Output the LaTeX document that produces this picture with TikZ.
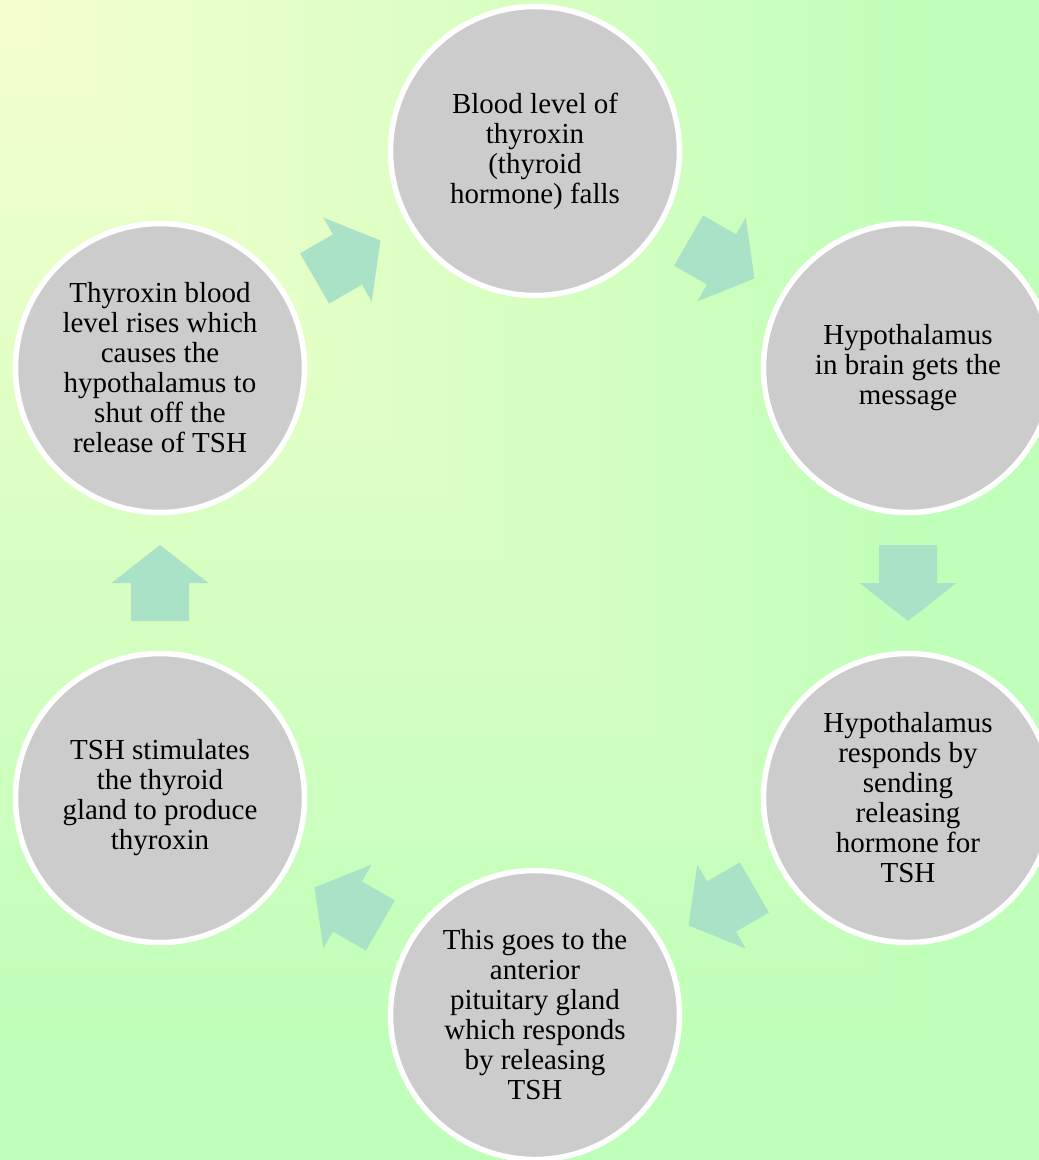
\documentclass[tikz,border=0pt]{standalone}
\usepackage{fontspec}
\setmainfont{Liberation Serif}
\usetikzlibrary{calc}
\definecolor{lemon}{HTML}{F5FFCD}
\definecolor{grass}{HTML}{C0FFB9}
\definecolor{disc}{HTML}{CCCCCC}
\definecolor{mint}{HTML}{AAE2C8}
\begin{document}
\begin{tikzpicture}
[x=1pt, y=-1pt, step circle/.style={circle, fill=disc, draw=white, line width=5.5pt, minimum size=289pt, inner sep=0pt, align=center, font=\fontsize{29}{30}\selectfont}, flow arrow/.style={fill=mint, draw=none}]
    \useasboundingbox (0,0) rectangle (1039,1160);
    \clip (0,0) rectangle (1039,1160);
    \foreach \i in {0,...,100} {
        \pgfmathsetmacro{\s}{1-\i/100}
        \pgfmathsetmacro{\p}{max(0,100*(1-\s/0.9))}
        \fill[lemon!\p!grass] (0,0) rectangle ({\s*1039},{\s*1160});
    }
    \node[step circle] (top) at (535,151) {Blood level of\\thyroxin\\(thyroid\\hormone) falls};
    \node[step circle] (rup) at (908,368) {Hypothalamus\\in brain gets the\\message};
    \node[step circle] (rlo) at (908,798) {Hypothalamus\\responds by\\sending\\releasing\\hormone for\\TSH};
    \node[step circle] (bot) at (535,1015) {This goes to the\\anterior\\pituitary gland\\which responds\\by releasing\\TSH};
    \node[step circle] (llo) at (160,798) {TSH stimulates\\the thyroid\\gland to produce\\thyroxin};
    \node[step circle] (lup) at (160,368) {Thyroxin blood\\level rises which\\causes the\\hypothalamus to\\shut off the\\release of TSH};
    \foreach \from/\to/\ang in {top/rup/-30, rup/rlo/-90, rlo/bot/-150, bot/llo/150, llo/lup/90, lup/top/30}
        \fill[flow arrow, shift={($(\from)!0.5!(\to)$)}, rotate=\ang] (-38,-29) -- (0,-29) -- (0,-48.5) -- (38,0) -- (0,48.5) -- (0,29) -- (-38,29) -- cycle;
\end{tikzpicture}
\end{document}
